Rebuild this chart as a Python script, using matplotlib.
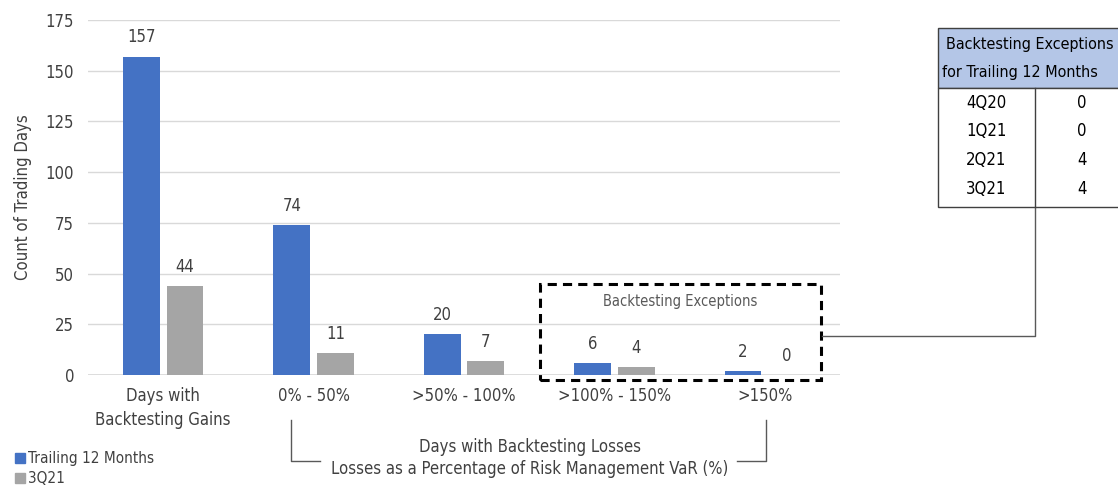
import numpy as np
import matplotlib
matplotlib.use("Agg")
from matplotlib import pyplot as plt
from matplotlib.patches import Rectangle
from matplotlib.lines import Line2D
from matplotlib import font_manager as fm

plt.rcParams['font.family'] = ['DejaVu Sans']
plt.rcParams['font.stretch'] = 'condensed'

categories = ["Days with\nBacktesting Gains", "0% - 50%", ">50% - 100%",
              ">100% - 150%", ">150%"]
trailing = [157, 74, 20, 6, 2]
q3 = [44, 11, 7, 4, 0]
series_names = ["Trailing 12 Months", "3Q21"]
quarters = ["4Q20", "1Q21", "2Q21", "3Q21"]
exceptions = [0, 0, 4, 4]

blue = "#4472C4"
grey = "#A5A5A5"
txt = "#404040"

fig = plt.figure(figsize=(11.18, 4.86), dpi=100)
ax = fig.add_axes([0.0787, 0.2284, 0.6726, 0.7304])

x = np.arange(len(categories))
w = 0.245
off = 0.145
b1 = ax.bar(x - off, trailing, w, color=blue, zorder=3)
b2 = ax.bar(x + off, q3, w, color=grey, zorder=3)
for bars, vals in ((b1, trailing), (b2, q3)):
    for r, v in zip(bars, vals):
        ax.text(r.get_x() + r.get_width() / 2, v + 5, str(v), ha="center",
                va="bottom", fontsize=12, color=txt)

ax.set_xlim(-0.5, 4.5)
ax.set_ylim(0, 175)
ax.set_yticks(np.arange(0, 176, 25))
ax.set_xticks(x)
ax.set_xticklabels(categories, fontsize=12, color=txt, linespacing=1.4)
ax.tick_params(axis="both", length=0, colors=txt, labelsize=12)
ax.tick_params(axis="x", pad=9)
ax.tick_params(axis="y", pad=10)
ax.yaxis.grid(True, color="#D9D9D9", lw=1, zorder=0)
for s in ax.spines.values():
    s.set_visible(False)
ax.axhline(0, color="#D9D9D9", lw=1.2, zorder=1)
ax.set_ylabel("Count of Trading Days", fontsize=12, color=txt, labelpad=10)

# dashed box around the exception buckets
ax.add_patch(Rectangle((2.505, -2.5), 1.87, 47.3, fill=False, ls=(0, (3, 2)),
                       lw=2.2, ec="black", clip_on=False, zorder=4))
ax.text(3.44, 36, "Backtesting Exceptions", ha="center", va="center",
        fontsize=10.5, color="#595959")

# bracket under the loss buckets
def fx(px):
    return px / 1118

def fy(py):
    return 1 - py / 486

fig.add_artist(Line2D([fx(291), fx(291), fx(320)], [fy(420), fy(461), fy(461)],
                      color="#595959", lw=1))
fig.add_artist(Line2D([fx(766), fx(766), fx(737)], [fy(420), fy(461), fy(461)],
                      color="#595959", lw=1))
fig.text(fx(530), fy(447), "Days with Backtesting Losses", ha="center",
         va="center", fontsize=12, color=txt)
fig.text(fx(530), fy(469), "Losses as a Percentage of Risk Management VaR (%)",
         ha="center", va="center", fontsize=12, color=txt)

# legend
for i, (name, c) in enumerate(zip(series_names, [blue, grey])):
    yy = 458 + 20 * i
    fig.add_artist(Rectangle((fx(15), fy(yy + 5)), fx(10), 10 / 486, color=c))
    fig.text(fx(28), fy(yy), name, ha="left", va="center", fontsize=11,
             color=txt)

# connector from box to table
fig.add_artist(Line2D([fx(822), fx(1035), fx(1035)], [fy(336), fy(336), fy(207)],
                      color="#595959", lw=1))

# table of exceptions
t_left, t_right, t_top, t_head, t_bot = 938, 1125, 28, 88, 207
fig.add_artist(Rectangle((fx(t_left), fy(t_head)), fx(t_right - t_left),
                         (t_head - t_top) / 486, fc="#B4C6E7", ec="#404040",
                         lw=1))
fig.add_artist(Rectangle((fx(t_left), fy(t_bot)), fx(t_right - t_left),
                         (t_bot - t_head) / 486, fc="white", ec="#404040",
                         lw=1))
fig.add_artist(Line2D([fx(1035), fx(1035)], [fy(t_head), fy(t_bot)],
                      color="#404040", lw=1))
fig.text(fx(946), fy(45), "Backtesting Exceptions", ha="left", va="center",
         fontsize=11.5, color="black")
fig.text(fx(942), fy(73), "for Trailing 12 Months", ha="left", va="center",
         fontsize=11.5, color="black")
for i, (q, e) in enumerate(zip(quarters, exceptions)):
    yy = 103 + 28.5 * i
    fig.text(fx(986), fy(yy), q, ha="center", va="center", fontsize=12,
             color="black")
    fig.text(fx(1082), fy(yy), str(e), ha="center", va="center", fontsize=12,
             color="black")

fig.savefig("out.png", dpi=100)
